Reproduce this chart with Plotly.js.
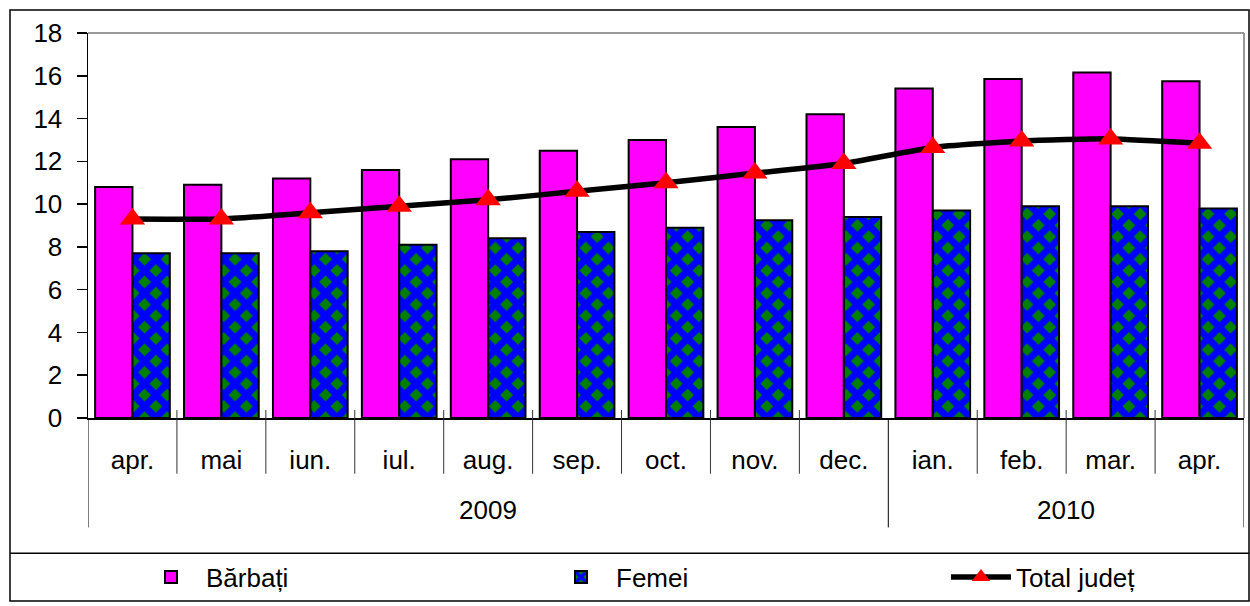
<!DOCTYPE html>
<html>
<head>
<meta charset="utf-8">
<script src="https://cdn.plot.ly/plotly-3.0.1.min.js"></script>
<style>
html,body{margin:0;padding:0;background:#fff;}
#chart{width:1250px;height:606px;}
</style>
</head>
<body>
<div id="chart"></div>
<script>
const years = ["2009","2009","2009","2009","2009","2009","2009","2009","2009","2010","2010","2010","2010"];
const months = ["apr.","mai","iun.","iul.","aug.","sep.","oct.","nov.","dec.","ian.","feb.","mar.","apr."];
const barbati = [10.8,10.9,11.2,11.6,12.1,12.5,13.0,13.6,14.2,15.4,15.85,16.15,15.75];
const femei = [7.7,7.7,7.8,8.1,8.4,8.7,8.9,9.25,9.4,9.7,9.9,9.9,9.8];
const total = [9.3,9.3,9.6,9.9,10.2,10.6,11.0,11.45,11.9,12.65,12.95,13.05,12.85];
const yTicks = [0,2,4,6,8,10,12,14,16,18];

const L = 88, R = 1244, T = 33, B = 420, W = 1250, H = 606;
const px = x => (x - L) / (R - L);
const py = y => (B - y) / (B - T);

// unique category keys (year + month), labelled by month
const keys = months.map((m, i) => years[i] + " " + m);

const FONT = "Liberation Sans, Arial, sans-serif";
const font = {family: FONT, size: 26, color: "#000"};

const traces = [
  {type: "bar", name: "Bărbați", x: keys, y: barbati, legend: "legend",
   marker: {color: "#ff00ff", line: {color: "#000", width: 2}}},
  {type: "bar", name: "Femei", x: keys, y: femei, legend: "legend2",
   marker: {color: "#0000ff", line: {color: "#000", width: 2},
     pattern: {shape: "x", fgcolor: "#0000ff", bgcolor: "#008000", size: 16, solidity: 0.68, fillmode: "replace"}}},
  {type: "scatter", mode: "lines+markers", name: "Total județ", x: keys, y: total, legend: "legend3",
   line: {color: "#000", width: 5.5, shape: "spline", smoothing: 0.5},
   marker: {symbol: "triangle-up", color: "#ff0000", size: 22, line: {width: 0}}}
];

// category boundary ticks and year dividers
const shapes = [];
for (let i = -1; i < keys.length; i++) {
  const isYear = i === -1 || i === keys.length - 1 || years[i] !== years[i + 1];
  shapes.push({type: "line", xref: "x", yref: "paper", x0: i + 0.5, x1: i + 0.5,
    y0: isYear ? py(420) : py(412), y1: isYear ? py(530) : py(476),
    line: {color: isYear ? "#000" : "#333", width: 1}});
}
shapes.push(
  {type: "line", xref: "paper", yref: "paper", x0: 0, x1: 1, y0: 1, y1: 1, line: {color: "#999", width: 2}},
  {type: "line", xref: "paper", yref: "paper", x0: 1, x1: 1, y0: 0, y1: 1, line: {color: "#999", width: 2}},
  {type: "rect", xref: "paper", yref: "paper", x0: px(10), x1: px(1249), y0: py(604), y1: py(10), line: {color: "#000", width: 1.5}},
  {type: "line", xref: "paper", yref: "paper", x0: px(10), x1: px(1249), y0: py(556), y1: py(556), line: {color: "#000", width: 1.5}}
);

// year group labels
const yearGroups = [];
years.forEach((y, i) => {
  const g = yearGroups.find(o => o.year === y);
  if (g) g.last = i; else yearGroups.push({year: y, first: i, last: i});
});
const annotations = yearGroups.map(g => ({
  xref: "x", yref: "paper", x: (g.first + g.last) / 2, y: py(512),
  text: g.year, showarrow: false, font: font, xanchor: "center", yanchor: "middle"
}));

const legendBase = {orientation: "h", yanchor: "middle", y: py(580), xanchor: "left",
  font: font, itemwidth: 60, bgcolor: "rgba(0,0,0,0)"};

const layout = {
  width: W, height: H,
  margin: {l: L, r: W - R, t: T, b: H - B},
  paper_bgcolor: "#fff", plot_bgcolor: "#fff",
  font: font,
  barmode: "group", bargap: 0.16, bargroupgap: 0,
  showlegend: true,
  legend: Object.assign({}, legendBase, {x: px(136)}),
  legend2: Object.assign({}, legendBase, {x: px(546)}),
  legend3: Object.assign({}, legendBase, {x: px(946)}),
  xaxis: {type: "category", range: [-0.5, keys.length - 0.5], tickmode: "array", tickvals: keys, ticktext: months,
    showline: true, linecolor: "#000", linewidth: 1.5, ticks: "", ticklabelstandoff: 18,
    tickfont: font, showgrid: false, zeroline: false, automargin: false, fixedrange: true},
  yaxis: {range: [0, 18], tickvals: yTicks, ticktext: yTicks.map(String),
    showline: true, linecolor: "#000", linewidth: 1.5,
    ticks: "outside", ticklen: 10, tickcolor: "#000", tickwidth: 1.5, ticklabelstandoff: 9,
    showgrid: false, zeroline: false, tickfont: font, automargin: false, fixedrange: true},
  shapes: shapes,
  annotations: annotations
};

Plotly.newPlot("chart", traces, layout, {displayModeBar: false, staticPlot: true});
</script>
</body>
</html>
